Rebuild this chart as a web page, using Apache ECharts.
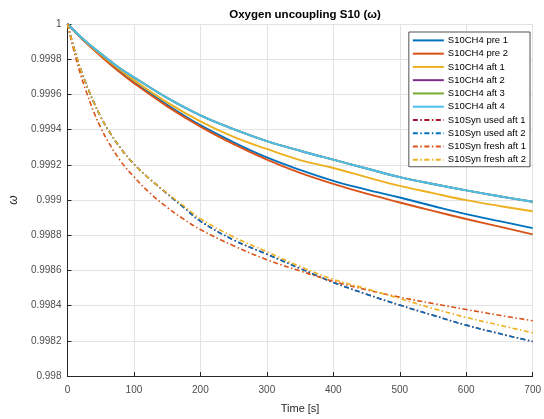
<!DOCTYPE html>
<html>
<head>
<meta charset="utf-8">
<style>
  html, body { margin: 0; padding: 0; background: #fff; }
  #chart { width: 544px; height: 419px; }
</style>
<script src="https://cdn.jsdelivr.net/npm/echarts@6/dist/echarts.min.js"></script>
</head>
<body>
<div id="chart"></div>
<script>
// Time samples [s]
const timeSolid = [0, 25, 50, 75, 100, 150, 200, 250, 300, 350, 400, 450, 500, 550, 600, 650, 700];
const timeDashed = [0, 10, 20, 30, 40, 50, 60, 80, 100, 125, 150, 175, 200, 250, 300, 350, 400, 450, 500, 550, 600, 650, 700];

// Oxygen uncoupling conversion (omega), CH4 runs
const ch4Pre1 = [1, 0.999905, 0.999821, 0.999742, 0.999669, 0.999541, 0.999425, 0.999328, 0.999242, 0.999171, 0.999109, 0.999059, 0.999014, 0.998966, 0.998920, 0.998880, 0.998840];
const ch4Pre2 = [1, 0.999905, 0.999818, 0.999737, 0.999664, 0.999532, 0.999417, 0.999317, 0.999229, 0.999154, 0.999092, 0.999036, 0.998986, 0.998938, 0.998892, 0.998849, 0.998805];
const ch4Aft1 = [1, 0.999908, 0.999826, 0.999751, 0.999681, 0.999555, 0.999447, 0.999359, 0.999290, 0.999227, 0.999182, 0.999130, 0.999080, 0.999039, 0.998999, 0.998966, 0.998936];
const ch4Aft2 = [1, 0.999910, 0.999832, 0.999759, 0.999697, 0.999580, 0.999481, 0.999403, 0.999335, 0.999280, 0.999229, 0.999179, 0.999130, 0.999091, 0.999055, 0.999021, 0.998990];
const ch4Aft3 = [1, 0.999910, 0.999832, 0.999759, 0.999697, 0.999580, 0.999481, 0.999403, 0.999335, 0.999280, 0.999229, 0.999179, 0.999130, 0.999091, 0.999055, 0.999021, 0.998990];
const ch4Aft4 = [1, 0.999910, 0.999832, 0.999759, 0.999697, 0.999580, 0.999481, 0.999403, 0.999335, 0.999280, 0.999229, 0.999179, 0.999130, 0.999091, 0.999055, 0.999021, 0.998990];

// Syngas runs
const synUsedAft1 = [1, 0.999860, 0.999742, 0.999641, 0.999552, 0.999473, 0.999406, 0.999294, 0.999204, 0.999115, 0.999036, 0.998958, 0.998880, 0.998773, 0.998692, 0.998611, 0.998532, 0.998465, 0.998403, 0.998345, 0.998289, 0.998241, 0.998196];
const synUsedAft2 = [1, 0.999860, 0.999742, 0.999641, 0.999552, 0.999473, 0.999406, 0.999294, 0.999204, 0.999115, 0.999036, 0.998958, 0.998880, 0.998773, 0.998692, 0.998611, 0.998532, 0.998465, 0.998403, 0.998345, 0.998289, 0.998241, 0.998196];
const synFreshAft1 = [1, 0.999843, 0.999709, 0.999597, 0.999496, 0.999412, 0.999339, 0.999221, 0.999132, 0.999036, 0.998958, 0.998891, 0.998832, 0.998740, 0.998661, 0.998597, 0.998538, 0.998490, 0.998448, 0.998412, 0.998378, 0.998345, 0.998314];
const synFreshAft2 = [1, 0.999860, 0.999742, 0.999641, 0.999552, 0.999473, 0.999406, 0.999294, 0.999204, 0.999115, 0.999039, 0.998966, 0.998894, 0.998790, 0.998706, 0.998622, 0.998549, 0.998496, 0.998440, 0.998384, 0.998333, 0.998289, 0.998245];

// Axis ticks
const xTicks = [0, 100, 200, 300, 400, 500, 600, 700];
const yTicks = [0.998, 0.9982, 0.9984, 0.9986, 0.9988, 0.999, 0.9992, 0.9994, 0.9996, 0.9998, 1];

const FONT = '"Liberation Sans", Arial, Helvetica, sans-serif';
const AXIS_COLOR = '#262626';
const DASH_DOT = [5, 2.5, 1.5, 2.5];

const runs = [
  { name: 'S10CH4 pre 1', t: timeSolid, v: ch4Pre1, color: '#0072BD', dashed: false },
  { name: 'S10CH4 pre 2', t: timeSolid, v: ch4Pre2, color: '#D95319', dashed: false },
  { name: 'S10CH4 aft 1', t: timeSolid, v: ch4Aft1, color: '#EDB120', dashed: false },
  { name: 'S10CH4 aft 2', t: timeSolid, v: ch4Aft2, color: '#7E2F8E', dashed: false },
  { name: 'S10CH4 aft 3', t: timeSolid, v: ch4Aft3, color: '#77AC30', dashed: false },
  { name: 'S10CH4 aft 4', t: timeSolid, v: ch4Aft4, color: '#4DBEEE', dashed: false },
  { name: 'S10Syn used aft 1', t: timeDashed, v: synUsedAft1, color: '#A2142F', dashed: true },
  { name: 'S10Syn used aft 2', t: timeDashed, v: synUsedAft2, color: '#0072BD', dashed: true },
  { name: 'S10Syn fresh aft 1', t: timeDashed, v: synFreshAft1, color: '#D95319', dashed: true },
  { name: 'S10Syn fresh aft 2', t: timeDashed, v: synFreshAft2, color: '#EDB120', dashed: true }
];

const series = runs.map(r => ({
  name: r.name,
  type: 'line',
  data: r.t.map((t, i) => [t, r.v[i]]),
  symbol: 'none',
  smooth: 0.4,
  color: r.color,
  lineStyle: {
    color: r.color,
    width: r.dashed ? 1.6 : 1.9,
    type: r.dashed ? DASH_DOT : 'solid'
  },
  emphasis: { disabled: true },
  animation: false
}));

const chart = echarts.init(document.getElementById('chart'), null, { renderer: 'canvas' });

function fmtY(v) {
  const match = yTicks.find(t => Math.abs(t - v) < 1e-9);
  return match !== undefined ? String(match) : '';
}

chart.setOption({
  backgroundColor: '#ffffff',
  animation: false,
  title: {
    text: 'Oxygen uncoupling S10 (ω)',
    left: 300,
    top: 4,
    textAlign: 'center',
    textStyle: { fontFamily: FONT, fontSize: 11.5, fontWeight: 'bold', color: '#000' }
  },
  grid: { left: 62, right: 6, top: 24, bottom: 38, containLabel: false },
  legend: {
    orient: 'vertical',
    right: 14,
    top: 32,
    padding: [3.4, 4, 2, 3],
    itemWidth: 31,
    itemHeight: 10,
    itemGap: 3.26,
    backgroundColor: '#ffffff',
    borderColor: '#262626',
    borderWidth: 0.8,
    itemStyle: { opacity: 0, borderWidth: 0 },
    textStyle: { fontFamily: FONT, fontSize: 9.5, lineHeight: 10, color: '#000', padding: [0, 0, 0, -1] },
    data: runs.map(r => r.name)
  },
  xAxis: {
    type: 'value',
    min: 0,
    max: 700,
    interval: 100,
    name: 'Time [s]',
    nameLocation: 'middle',
    nameGap: 27,
    nameTextStyle: { fontFamily: FONT, fontSize: 11, color: '#262626' },
    axisLine: { show: true, lineStyle: { color: AXIS_COLOR, width: 1 } },
    axisTick: { show: true, inside: true, length: 4, lineStyle: { color: AXIS_COLOR } },
    axisLabel: {
      fontFamily: FONT, fontSize: 10, color: '#4d4d4d', margin: 9,
      formatter: v => (xTicks.includes(Math.round(v)) ? String(Math.round(v)) : '')
    },
    splitLine: { show: true, lineStyle: { color: '#e3e3e3', width: 1 } }
  },
  yAxis: {
    type: 'value',
    min: 0.998,
    max: 1,
    interval: 0.0002,
    name: 'ω',
    nameLocation: 'middle',
    nameGap: 46,
    nameRotate: 90,
    nameTextStyle: { fontFamily: FONT, fontSize: 12, fontStyle: 'italic', color: '#262626' },
    axisLine: { show: true, lineStyle: { color: AXIS_COLOR, width: 1 } },
    axisTick: { show: true, inside: true, length: 4, lineStyle: { color: AXIS_COLOR } },
    axisLabel: { fontFamily: FONT, fontSize: 10, color: '#4d4d4d', margin: 6, formatter: fmtY },
    splitLine: { show: true, lineStyle: { color: '#e3e3e3', width: 1 } }
  },
  series: series
});
</script>
</body>
</html>
